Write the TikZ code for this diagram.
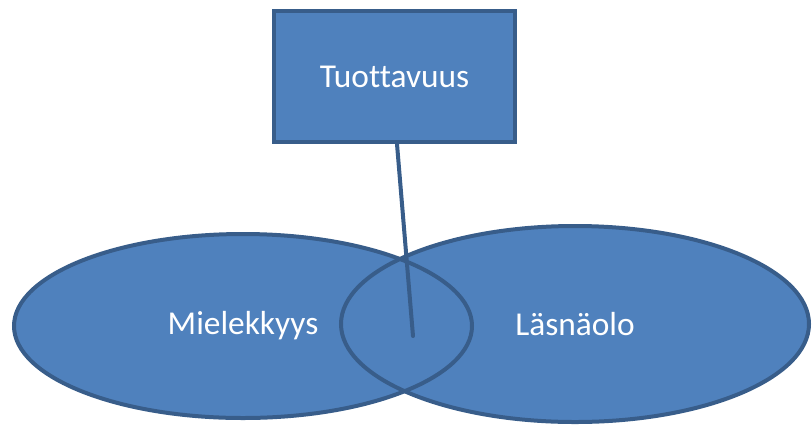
\documentclass[tikz,border=0pt]{standalone}
\usepackage{fontspec}
\setmainfont[Ligatures=NoCommon]{Carlito}
\usetikzlibrary{positioning}
\usetikzlibrary{shapes.geometric,backgrounds}
\definecolor{boxfill}{HTML}{4F81BD}
\definecolor{boxline}{HTML}{385D8A}

\begin{document}
\begin{tikzpicture}[x=1bp,y=-1bp,
  every node/.style={text=white,font=\fontsize{33.5}{40}\selectfont,inner sep=0pt},
  goal/.style={rectangle,draw=boxline,fill=boxfill,line width=4bp,minimum width=241bp,minimum height=131bp},
  blob/.style={ellipse,draw=boxline,line width=4bp}]
\useasboundingbox (0,0) rectangle (812,425);
\node[goal] (t) at (394.5,76.5) {Tuottavuus};
\node[blob,minimum width=458bp,minimum height=184bp] (m) at (243,326) {Mielekkyys};
\node[blob,minimum width=468bp,minimum height=196bp] (l) at (575,324) {Läsnäolo};
\begin{scope}[on background layer]
\fill[boxfill] (m.center) ellipse [x radius=229, y radius=92];
\fill[boxfill] (l.center) ellipse [x radius=234, y radius=98];
\end{scope}
\coordinate (c) at (413,336);
\draw[boxline,line width=4bp,line cap=round] ([xshift=2.5bp]t.south) -- (c);
\end{tikzpicture}
\end{document}
